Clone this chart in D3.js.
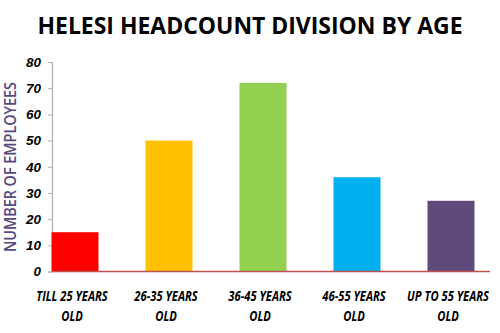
<!DOCTYPE html>
<html>
<head>
<meta charset="utf-8">
<script src="https://cdn.jsdelivr.net/npm/d3@7"></script>
<style>
  body { margin: 0; background: #fff; }
  svg { display: block; font-family: 'Open Sans', sans-serif; }
</style>
</head>
<body>
<svg id="chart" width="500" height="333"></svg>
<script>
const categories = ['TILL 25 YEARS OLD', '26-35 YEARS OLD', '36-45 YEARS OLD', '46-55 YEARS OLD', 'UP TO 55 YEARS OLD']
const values = [15, 50, 72, 36, 27]
const colors = ['#ff0000', '#ffc000', '#92d050', '#00b0f0', '#604a7b']
const yTicks = [0, 10, 20, 30, 40, 50, 60, 70, 80]

const svg = d3.select('#chart')

const x = d3.scaleBand()
    .domain(categories)
    .range([28, 498])
    .paddingInner(0.5)
    .paddingOuter(0.25)

const y = d3.scaleLinear()
    .domain([0, 80])
    .range([271.5, 62])

// title
svg.append('text')
    .attr('x', 250)
    .attr('y', 34)
    .attr('text-anchor', 'middle')
    .attr('textLength', 425)
    .attr('lengthAdjust', 'spacingAndGlyphs')
    .style('font-size', '23px')
    .style('font-weight', 'bold')
    .attr('fill', '#000')
    .text('HELESI HEADCOUNT DIVISION BY AGE')

// y axis
const yAxis = svg.append('g')
    .attr('transform', 'translate(52,0)')
    .call(d3.axisLeft(y).tickValues(yTicks).tickSize(4).tickPadding(7))

yAxis.select('.domain').attr('stroke', '#b0b0b0').attr('stroke-width', 1.2)
yAxis.selectAll('.tick line').attr('stroke', '#b0b0b0')
yAxis.selectAll('.tick text')
    .style('font-size', '13.5px')
    .style('font-weight', 'bold')
    .style('font-style', 'italic')
    .attr('fill', '#000')

// y title
svg.append('text')
    .attr('transform', 'translate(10,167) rotate(-90)')
    .attr('text-anchor', 'middle')
    .attr('dy', '0.35em')
    .attr('textLength', 170)
    .attr('lengthAdjust', 'spacingAndGlyphs')
    .style('font-size', '16px')
    .style('font-weight', 600)
    .attr('fill', '#574a7e')
    .text('NUMBER OF EMPLOYEES')

// bars
svg.selectAll('rect.bar')
    .data(values)
    .join('rect')
    .attr('class', 'bar')
    .attr('x', (d, i) => x(categories[i]))
    .attr('width', x.bandwidth())
    .attr('y', d => y(d))
    .attr('height', d => y(0) - y(d))
    .attr('fill', (d, i) => colors[i])

// baseline
svg.append('line')
    .attr('x1', 52)
    .attr('x2', 490)
    .attr('y1', y(0))
    .attr('y2', y(0))
    .attr('stroke', '#c0504d')
    .attr('stroke-width', 1.5)

// x labels, two lines each; squeeze to a Calibri-like width
const xl = svg.selectAll('text.xlab')
    .data(categories)
    .join('text')
    .attr('class', 'xlab')
    .attr('text-anchor', 'middle')
    .style('font-size', '14px')
    .style('font-weight', 'bold')
    .style('font-style', 'italic')
    .attr('fill', '#000')

const squeeze = 0.8
xl.each(function(d) {
    const cx = x(d) + x.bandwidth() / 2 - 3
    const parts = [d.replace(/ OLD$/, ''), 'OLD']
    d3.select(this).selectAll('tspan')
        .data(parts)
        .join('tspan')
        .attr('x', cx)
        .attr('y', (p, i) => 301 + i * 20)
        .text(p => p)
        .each(function() {
            const w = this.getComputedTextLength()
            d3.select(this)
                .attr('textLength', w * squeeze)
                .attr('lengthAdjust', 'spacingAndGlyphs')
        })
})
</script>
</body>
</html>
